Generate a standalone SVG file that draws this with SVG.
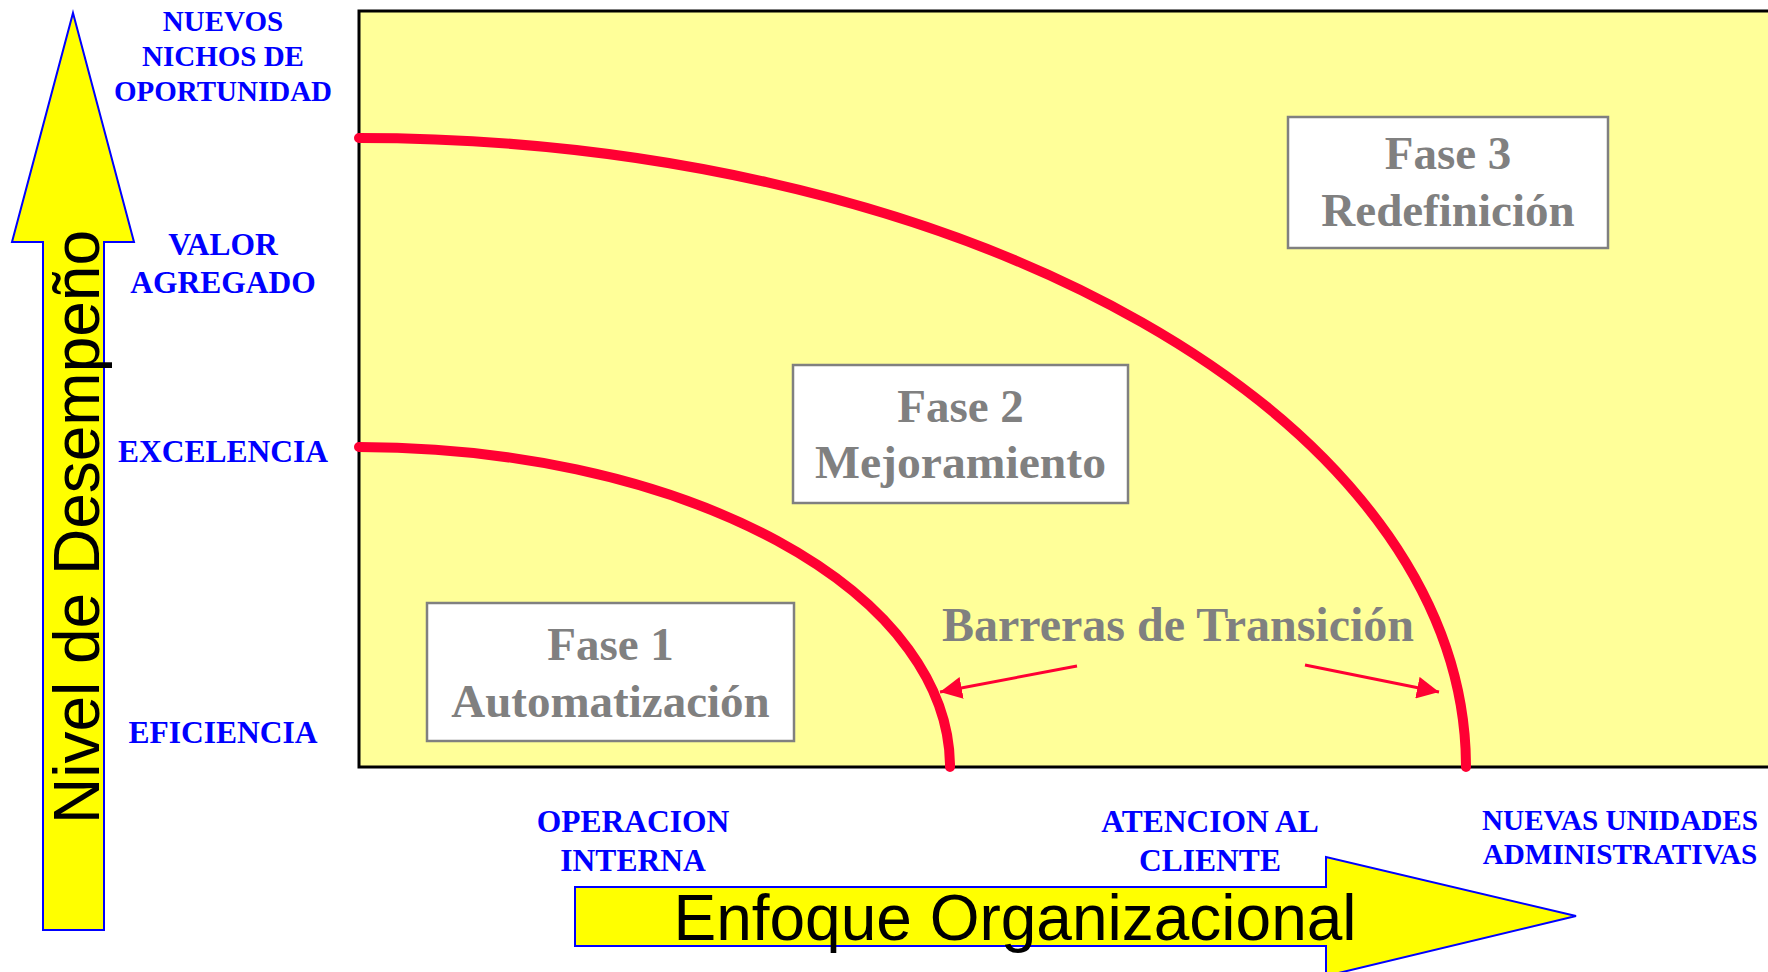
<svg xmlns="http://www.w3.org/2000/svg" width="1768" height="972" viewBox="0 0 1768 972">
<defs>
<style>
.lbl{font-family:"Liberation Serif","Times New Roman",serif;font-weight:bold;fill:#0000FF;text-anchor:middle}
.fase{font-family:"Liberation Serif","Times New Roman",serif;font-weight:bold;fill:#808080;text-anchor:middle;font-size:47px}
.box{fill:#FFFFFF;stroke:#808080;stroke-width:2.5}
.axis{fill:#FFFF00;stroke:#0000FF;stroke-width:2}
.axtxt{font-family:"Liberation Sans",Arial,sans-serif;font-size:64px;fill:#000000;text-anchor:middle}
.curve{fill:none;stroke:#FF0033;stroke-width:10;stroke-linecap:round}
.thin{fill:none;stroke:#FF0033;stroke-width:3}
</style>
<marker id="ah" markerUnits="userSpaceOnUse" markerWidth="24" markerHeight="22" refX="22" refY="11" orient="auto">
<path d="M0,0 L22,11 L0,22 Z" fill="#FF0033"/>
</marker>
</defs>
<rect width="1768" height="972" fill="#FFFFFF"/>
<g id="plot">
<rect x="359" y="11" width="1430" height="756" fill="#FFFF99" stroke="#000000" stroke-width="3"/>
</g>
<g id="y-axis">
<path class="axis" d="M73,13 L134,242 L104,242 L104,930 L43,930 L43,242 L12,242 Z"/>
<text class="axtxt" transform="translate(99,527) rotate(-90)">Nivel de Desempeño</text>
</g>
<g id="x-axis">
<path class="axis" d="M575,887 L1326,887 L1326,857 L1576,916 L1326,976 L1326,946 L575,946 Z"/>
<text class="axtxt" x="1015" y="940">Enfoque Organizacional</text>
</g>
<g id="y-labels">
<text class="lbl" font-size="29" x="223" y="31">NUEVOS</text>
<text class="lbl" font-size="29" x="223" y="66">NICHOS DE</text>
<text class="lbl" font-size="29" x="223" y="101">OPORTUNIDAD</text>
<text class="lbl" font-size="31.5" x="223" y="255">VALOR</text>
<text class="lbl" font-size="31.5" x="223" y="293">AGREGADO</text>
<text class="lbl" font-size="31.5" x="223" y="462">EXCELENCIA</text>
<text class="lbl" font-size="31.5" x="223" y="743">EFICIENCIA</text>
</g>
<g id="x-labels">
<text class="lbl" font-size="31.5" x="633" y="832">OPERACION</text>
<text class="lbl" font-size="31.5" x="633" y="871">INTERNA</text>
<text class="lbl" font-size="31.5" x="1210" y="832">ATENCION AL</text>
<text class="lbl" font-size="31.5" x="1210" y="871">CLIENTE</text>
<text class="lbl" font-size="29.2" x="1620" y="830">NUEVAS UNIDADES</text>
<text class="lbl" font-size="29.2" x="1620" y="864">ADMINISTRATIVAS</text>
</g>
<g id="connectors">
<path class="curve" d="M359,447 A591,320 0 0 1 950,767"/>
<path class="curve" d="M359,138 A1107,629 0 0 1 1466,767"/>
<line class="thin" x1="1077" y1="666" x2="940" y2="692" marker-end="url(#ah)"/>
<line class="thin" x1="1305" y1="665" x2="1439" y2="692" marker-end="url(#ah)"/>
</g>
<g id="fase1">
<rect class="box" x="427" y="603" width="367" height="138"/>
<text class="fase" x="610.5" y="660">Fase 1</text>
<text class="fase" x="610.5" y="717">Automatización</text>
</g>
<g id="fase2">
<rect class="box" x="793" y="365" width="335" height="138"/>
<text class="fase" x="960.5" y="422">Fase 2</text>
<text class="fase" x="960.5" y="478" textLength="291" lengthAdjust="spacingAndGlyphs">Mejoramiento</text>
</g>
<g id="fase3">
<rect class="box" x="1288" y="117" width="320" height="131"/>
<text class="fase" x="1448" y="169">Fase 3</text>
<text class="fase" x="1448" y="226">Redefinición</text>
</g>
<g id="barreras">
<text class="fase" style="font-size:48px" x="1178" y="641">Barreras de Transición</text>
</g>
</svg>
